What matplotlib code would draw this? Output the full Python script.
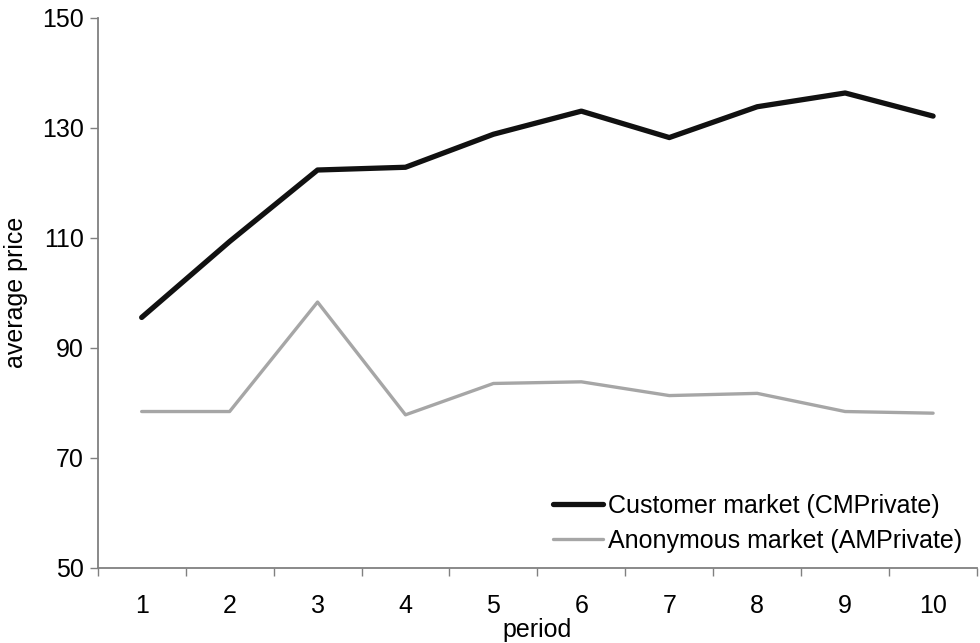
import numpy as np
import matplotlib.pyplot as plt

periods = np.arange(1, 11)
customer_market = [95.5, 109.3, 122.3, 122.8, 128.8, 133.0, 128.2, 133.8, 136.3, 132.1]
anonymous_market = [78.4, 78.4, 98.3, 77.8, 83.5, 83.8, 81.3, 81.7, 78.4, 78.1]
y_ticks = [50, 70, 90, 110, 130, 150]

plt.rcParams['font.family'] = ['Liberation Sans', 'DejaVu Sans']
fs = 18

fig = plt.figure(figsize=(9.8, 6.43), dpi=100)
ax = fig.add_axes([0.0997, 0.117, 0.8973, 0.8556])

ax.plot(periods, customer_market, color='#111111', lw=3.8,
        solid_capstyle='round', label='Customer market (CMPrivate)')
ax.plot(periods, anonymous_market, color='#a6a6a6', lw=2.4,
        solid_capstyle='round', label='Anonymous market (AMPrivate)')

ax.set_xlim(0.5, 10.5)
ax.set_ylim(50, 150)
ax.set_yticks(y_ticks)

# category labels sit between the boundary tick marks
ax.set_xticks(periods)
ax.set_xticks(np.arange(0.5, 11, 1), minor=True)
ax.tick_params(axis='x', which='major', length=0, pad=19, labelsize=fs)
ax.tick_params(axis='x', which='minor', length=6, width=1, color='#808080', direction='out')
ax.tick_params(axis='y', length=6, width=1, color='#808080', direction='out', labelsize=fs, pad=4)

for side in ['top', 'right']:
    ax.spines[side].set_visible(False)
for side in ['left', 'bottom']:
    ax.spines[side].set_color('#808080')
    ax.spines[side].set_linewidth(1.3)

ax.set_xlabel('period', fontsize=fs, labelpad=0)
ax.set_ylabel('average price', fontsize=fs, labelpad=10)

ax.legend(loc='lower right', frameon=False, fontsize=fs, handlelength=2.0,
          handletextpad=0.2, labelspacing=0.45, borderaxespad=0.2,
          bbox_to_anchor=(1.0, 0.0))

fig.savefig('out.png', dpi=100)
